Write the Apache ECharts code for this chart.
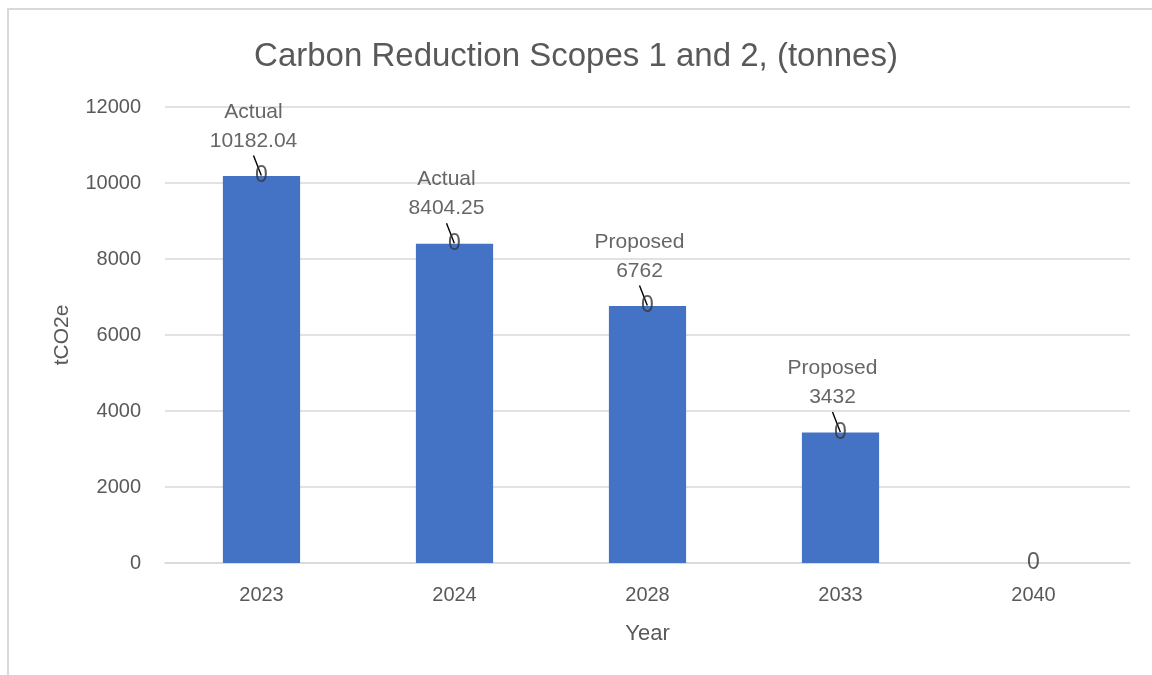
<!DOCTYPE html>
<html>
<head>
<meta charset="utf-8">
<script src="https://cdn.jsdelivr.net/npm/echarts@6/dist/echarts.min.js"></script>
<style>
  html, body { margin: 0; padding: 0; background: #fff; }
  #frame {
    position: absolute; left: 7px; top: 8px; right: 0; bottom: 0;
    border-top: 2px solid #d9d9d9; border-left: 2px solid #d9d9d9;
  }
  #chart { position: absolute; left: 0; top: 0; width: 1152px; height: 675px; }
</style>
</head>
<body>
<div id="frame"></div>
<div id="chart"></div>
<script>
const years = ['2023', '2024', '2028', '2033', '2040'];
const values = [10182.04, 8404.25, 6762, 3432, 0];
const status = ['Actual', 'Actual', 'Proposed', 'Proposed', ''];
const zeroLabels = ['0', '0', '0', '0', '0'];
const yTicks = [0, 2000, 4000, 6000, 8000, 10000, 12000];

const font = 'Liberation Sans';
const chart = echarts.init(document.getElementById('chart'));

// status labels sit on invisible points at the bar tops so the leader line runs to the bar centre
const labelPoints = values.map((v, i) => ({
  value: v,
  label: { show: !!status[i] },
  labelLine: { show: !!status[i] }
}));

const option = {
  animation: false,
  title: {
    text: 'Carbon Reduction Scopes 1 and 2, (tonnes)',
    left: 'center',
    top: 35,
    textStyle: { fontFamily: font, fontSize: 33, fontWeight: 'normal', color: '#595959' }
  },
  grid: { left: 165, right: 22, top: 107, bottom: 112 },
  xAxis: {
    type: 'category',
    data: years,
    name: 'Year',
    nameLocation: 'middle',
    nameGap: 60,
    nameTextStyle: { fontFamily: font, fontSize: 22, color: '#595959' },
    axisLine: { lineStyle: { color: '#d9d9d9', width: 1.5 } },
    axisTick: { show: false },
    axisLabel: { fontFamily: font, fontSize: 20, color: '#595959', margin: 22 }
  },
  yAxis: {
    type: 'value',
    min: yTicks[0],
    max: yTicks[yTicks.length - 1],
    interval: 2000,
    name: 'tCO2e',
    nameLocation: 'middle',
    nameGap: 92,
    nameTextStyle: { fontFamily: font, fontSize: 21, color: '#595959' },
    axisLabel: { fontFamily: font, fontSize: 20, color: '#595959', margin: 24, formatter: v => String(v) },
    splitLine: { lineStyle: { color: '#d9d9d9', width: 1.5 } }
  },
  series: [
    {
      type: 'bar',
      data: values,
      barWidth: '40%',
      itemStyle: { color: '#4472c4' }
    },
    {
      type: 'scatter',
      data: labelPoints,
      symbolSize: 1,
      itemStyle: { color: 'rgba(0,0,0,0)' },
      z: 4,
      label: {
        show: true,
        position: 'top',
        distance: 4,
        fontFamily: font,
        fontSize: 21,
        lineHeight: 29,
        color: '#404040',
        formatter: p => status[p.dataIndex] + '\n' + p.value
      },
      labelLayout: { dx: -8, dy: -16 },
      labelLine: { show: true, lineStyle: { color: '#000', width: 1.4 } }
    },
    {
      type: 'scatter',
      data: values,
      symbolSize: 0,
      z: 5,
      label: {
        show: true,
        position: 'inside',
        fontFamily: font,
        fontSize: 23,
        color: '#333333',
        formatter: p => zeroLabels[p.dataIndex]
      }
    }
  ]
};
chart.setOption(option);
</script>
</body>
</html>
